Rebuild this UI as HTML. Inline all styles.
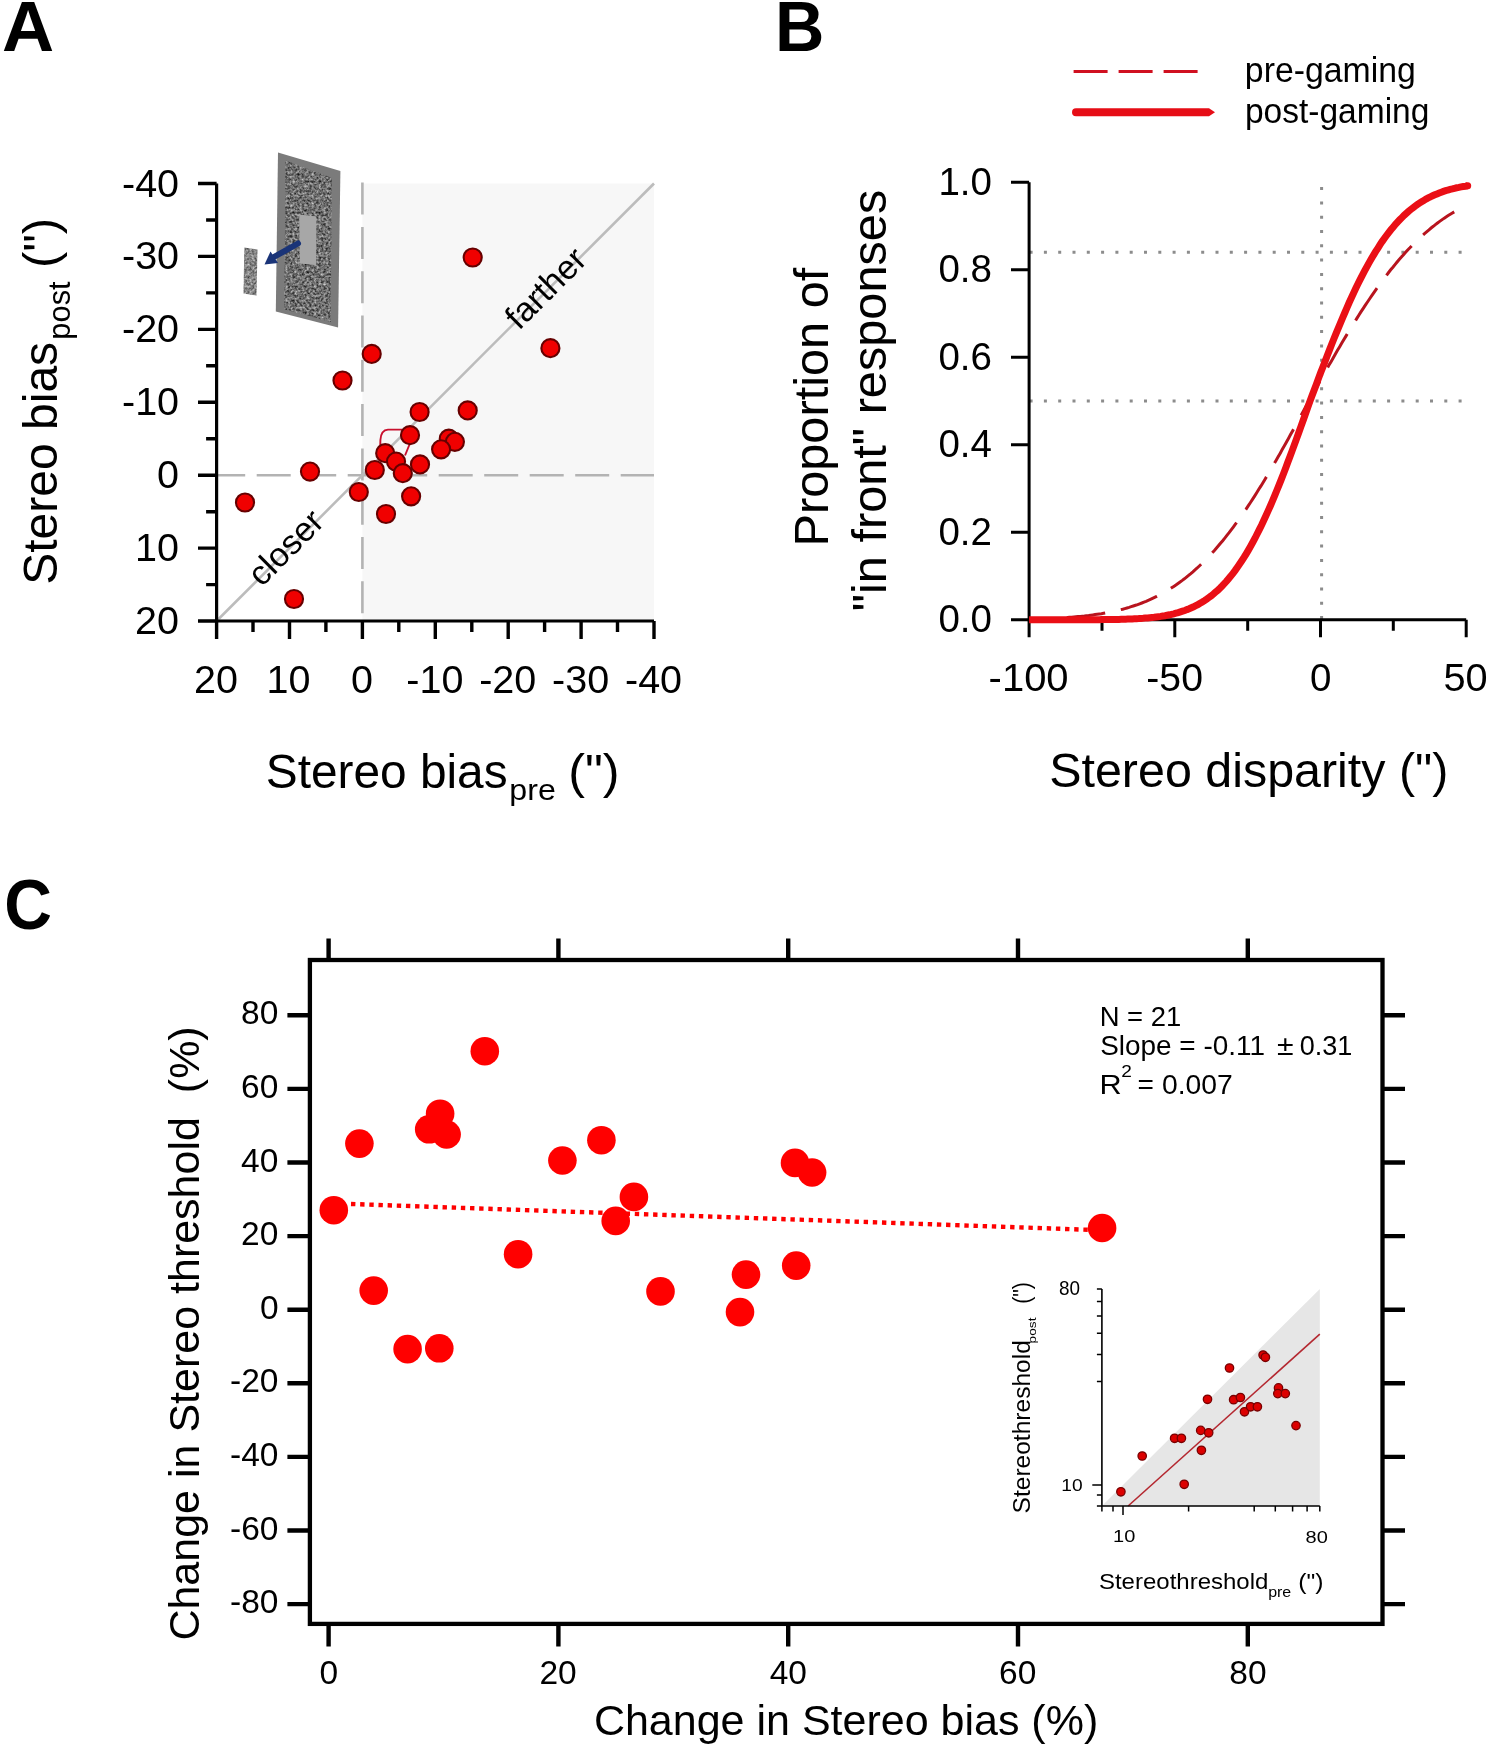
<!DOCTYPE html>
<html><head><meta charset="utf-8"><style>
html,body{margin:0;padding:0;background:#fff;}
svg{display:block;will-change:transform;}
</style></head><body>
<svg width="1499" height="1748" viewBox="0 0 1499 1748">
<rect width="1499" height="1748" fill="#fff"/>
<rect x="362.4" y="183.5" width="291.6" height="437.5" fill="#f7f7f7"/>
<line x1="216.6" y1="475.2" x2="654.0" y2="475.2" stroke="#b3b3b3" stroke-width="2.6" stroke-dasharray="34 11.5" stroke-dashoffset="5.4"/>
<line x1="362.4" y1="182.6" x2="362.4" y2="621.0" stroke="#b3b3b3" stroke-width="2.6" stroke-dasharray="32 12.3"/>
<line x1="216.6" y1="621.0" x2="654.0" y2="183.5" stroke="#bcbcbc" stroke-width="2.6"/>
<path d="M216.6,183.5 V621.0 H654.0" fill="none" stroke="#000" stroke-width="3.2"/>
<path d="M198.0,183.5H216.6M206.1,220.0H216.6M198.0,256.4H216.6M206.1,292.9H216.6M198.0,329.4H216.6M206.1,365.8H216.6M198.0,402.3H216.6M206.1,438.7H216.6M198.0,475.2H216.6M206.1,511.7H216.6M198.0,548.1H216.6M206.1,584.6H216.6M198.0,621.0H216.6M654.0,621.0V639.0M617.5,621.0V632.0M581.1,621.0V639.0M544.6,621.0V632.0M508.2,621.0V639.0M471.8,621.0V632.0M435.3,621.0V639.0M398.8,621.0V632.0M362.4,621.0V639.0M325.9,621.0V632.0M289.5,621.0V639.0M253.0,621.0V632.0M216.6,621.0V639.0" stroke="#000" stroke-width="3.4"/>
<path d="M380.2,447 L380.4,440 Q381,430 388,429.6 L402,429.6" fill="none" stroke="#c8102e" stroke-width="1.9"/>
<path d="M409.5,444.5 L405,455.5" fill="none" stroke="#c8102e" stroke-width="1.9"/>
<circle cx="245" cy="502.5" r="9.05" fill="#f00000" stroke="#660000" stroke-width="2.1"/>
<circle cx="310" cy="471.6" r="9.05" fill="#f00000" stroke="#660000" stroke-width="2.1"/>
<circle cx="294" cy="599" r="9.05" fill="#f00000" stroke="#660000" stroke-width="2.1"/>
<circle cx="342.5" cy="380.5" r="9.05" fill="#f00000" stroke="#660000" stroke-width="2.1"/>
<circle cx="371.7" cy="353.9" r="9.05" fill="#f00000" stroke="#660000" stroke-width="2.1"/>
<circle cx="472.7" cy="257.5" r="9.05" fill="#f00000" stroke="#660000" stroke-width="2.1"/>
<circle cx="550.4" cy="348.2" r="9.05" fill="#f00000" stroke="#660000" stroke-width="2.1"/>
<circle cx="419.6" cy="412" r="9.05" fill="#f00000" stroke="#660000" stroke-width="2.1"/>
<circle cx="467.7" cy="410.4" r="9.05" fill="#f00000" stroke="#660000" stroke-width="2.1"/>
<circle cx="410" cy="435.2" r="9.05" fill="#f00000" stroke="#660000" stroke-width="2.1"/>
<circle cx="448.8" cy="438.7" r="9.05" fill="#f00000" stroke="#660000" stroke-width="2.1"/>
<circle cx="454.9" cy="441.8" r="9.05" fill="#f00000" stroke="#660000" stroke-width="2.1"/>
<circle cx="441.1" cy="449.3" r="9.05" fill="#f00000" stroke="#660000" stroke-width="2.1"/>
<circle cx="385.2" cy="453.2" r="9.05" fill="#f00000" stroke="#660000" stroke-width="2.1"/>
<circle cx="396" cy="461.6" r="9.05" fill="#f00000" stroke="#660000" stroke-width="2.1"/>
<circle cx="420" cy="464.4" r="9.05" fill="#f00000" stroke="#660000" stroke-width="2.1"/>
<circle cx="374.8" cy="470" r="9.05" fill="#f00000" stroke="#660000" stroke-width="2.1"/>
<circle cx="402.8" cy="473.2" r="9.05" fill="#f00000" stroke="#660000" stroke-width="2.1"/>
<circle cx="358.8" cy="492" r="9.05" fill="#f00000" stroke="#660000" stroke-width="2.1"/>
<circle cx="411.1" cy="496.3" r="9.05" fill="#f00000" stroke="#660000" stroke-width="2.1"/>
<circle cx="386" cy="514" r="9.05" fill="#f00000" stroke="#660000" stroke-width="2.1"/>
<g stroke="#8c8c8c" stroke-width="3" stroke-dasharray="3 11.3"><line x1="1029.6" y1="252.3" x2="1466.2" y2="252.3"/><line x1="1029.6" y1="401.0" x2="1466.2" y2="401.0"/><line x1="1321.6" y1="187.1" x2="1321.6" y2="619.8"/></g>
<path d="M1029.1,182.3 V619.8 H1466.2" fill="none" stroke="#000" stroke-width="3"/>
<path d="M1011,619.8H1029.1M1011,532.3H1029.1M1011,444.8H1029.1M1011,357.3H1029.1M1011,269.8H1029.1M1011,182.3H1029.1M1029.1,619.8V637.3M1102.0,619.8V630.8M1174.8,619.8V637.3M1247.7,619.8V630.8M1320.5,619.8V637.3M1393.3,619.8V630.8M1466.2,619.8V637.3" stroke="#000" stroke-width="3"/>
<path d="M1029.1,619.1 L1031.2,619.1 L1033.4,619.0 L1035.5,619.0 L1037.6,618.9 L1039.7,618.8 L1041.9,618.8 L1044.0,618.7 L1046.1,618.6 L1048.2,618.5 L1050.4,618.4 L1052.5,618.4 L1054.6,618.2 L1056.8,618.1 L1058.9,618.0 L1061.0,617.9 L1063.1,617.8 L1065.3,617.6 L1067.4,617.5 L1069.5,617.3 L1071.6,617.2 L1073.8,617.0 L1075.9,616.8 L1078.0,616.6 L1080.2,616.4 L1082.3,616.2 L1084.4,616.0 L1086.5,615.7 L1088.7,615.5 L1090.8,615.2 L1092.9,614.9 L1095.0,614.6 L1097.2,614.3 L1099.3,614.0 L1101.4,613.7 L1103.6,613.3 L1105.7,612.9 L1107.8,612.5 L1109.9,612.1 L1112.1,611.7 L1114.2,611.2 L1116.3,610.7 L1118.4,610.2 L1120.6,609.7 L1122.7,609.2 L1124.8,608.6 L1127.0,608.0 L1129.1,607.4 L1131.2,606.7 L1133.3,606.0 L1135.5,605.3 L1137.6,604.6 L1139.7,603.8 L1141.8,603.0 L1144.0,602.1 L1146.1,601.3 L1148.2,600.4 L1150.4,599.4 L1152.5,598.4 L1154.6,597.4 L1156.7,596.4 L1158.9,595.3 L1161.0,594.1 L1163.1,593.0 L1165.2,591.7 L1167.4,590.5 L1169.5,589.2 L1171.6,587.8 L1173.8,586.4 L1175.9,585.0 L1178.0,583.5 L1180.1,582.0 L1182.3,580.4 L1184.4,578.8 L1186.5,577.1 L1188.6,575.4 L1190.8,573.6 L1192.9,571.8 L1195.0,569.9 L1197.2,568.0 L1199.3,566.0 L1201.4,564.0 L1203.5,561.9 L1205.7,559.8 L1207.8,557.6 L1209.9,555.3 L1212.0,553.0 L1214.2,550.7 L1216.3,548.3 L1218.4,545.8 L1220.5,543.3 L1222.7,540.7 L1224.8,538.1 L1226.9,535.4 L1229.1,532.7 L1231.2,529.9 L1233.3,527.1 L1235.4,524.2 L1237.6,521.3 L1239.7,518.3 L1241.8,515.3 L1243.9,512.2 L1246.1,509.1 L1248.2,505.9 L1250.3,502.7 L1252.5,499.4 L1254.6,496.1 L1256.7,492.7 L1258.8,489.3 L1261.0,485.9 L1263.1,482.4 L1265.2,478.9 L1267.3,475.4 L1269.5,471.8 L1271.6,468.2 L1273.7,464.5 L1275.9,460.8 L1278.0,457.1 L1280.1,453.4 L1282.2,449.6 L1284.4,445.8 L1286.5,442.0 L1288.6,438.2 L1290.7,434.3 L1292.9,430.4 L1295.0,426.5 L1297.1,422.7 L1299.3,418.7 L1301.4,414.8 L1303.5,410.9 L1305.6,407.0 L1307.8,403.0 L1309.9,399.2 L1312.0,395.4 L1314.1,391.5 L1316.3,387.7 L1318.4,383.9 L1320.5,380.1 L1322.7,376.4 L1324.8,372.6 L1326.9,368.8 L1329.0,365.1 L1331.2,361.4 L1333.3,357.7 L1335.4,354.0 L1337.5,350.3 L1339.7,346.7 L1341.8,343.1 L1343.9,339.5 L1346.1,335.9 L1348.2,332.4 L1350.3,328.9 L1352.4,325.4 L1354.6,322.0 L1356.7,318.6 L1358.8,315.2 L1360.9,311.9 L1363.1,308.6 L1365.2,305.4 L1367.3,302.2 L1369.5,299.0 L1371.6,295.9 L1373.7,292.8 L1375.8,289.8 L1378.0,286.8 L1380.1,283.8 L1382.2,280.9 L1384.3,278.1 L1386.5,275.3 L1388.6,272.5 L1390.7,269.8 L1392.9,267.2 L1395.0,264.6 L1397.1,262.0 L1399.2,259.5 L1401.4,257.1 L1403.5,254.7 L1405.6,252.3 L1407.7,250.0 L1409.9,247.8 L1412.0,245.6 L1414.1,243.4 L1416.3,241.3 L1418.4,239.3 L1420.5,237.3 L1422.6,235.3 L1424.8,233.4 L1426.9,231.6 L1429.0,229.8 L1431.1,228.0 L1433.3,226.3 L1435.4,224.6 L1437.5,223.0 L1439.7,221.4 L1441.8,219.9 L1443.9,218.4 L1446.0,217.0 L1448.2,215.6 L1450.3,214.3 L1452.4,213.0 L1454.5,211.7" fill="none" stroke="#b8141e" stroke-width="3" stroke-dasharray="38.7 16" stroke-dashoffset="17"/>
<path d="M1029.1,619.8 L1031.3,619.8 L1033.5,619.8 L1035.7,619.8 L1037.9,619.8 L1040.1,619.8 L1042.3,619.8 L1044.4,619.8 L1046.6,619.8 L1048.8,619.8 L1051.0,619.8 L1053.2,619.8 L1055.4,619.8 L1057.6,619.8 L1059.8,619.8 L1062.0,619.8 L1064.2,619.8 L1066.4,619.8 L1068.6,619.8 L1070.8,619.8 L1073.0,619.8 L1075.1,619.8 L1077.3,619.8 L1079.5,619.8 L1081.7,619.8 L1083.9,619.7 L1086.1,619.7 L1088.3,619.7 L1090.5,619.7 L1092.7,619.7 L1094.9,619.7 L1097.1,619.7 L1099.3,619.7 L1101.5,619.6 L1103.7,619.6 L1105.8,619.6 L1108.0,619.6 L1110.2,619.5 L1112.4,619.5 L1114.6,619.5 L1116.8,619.4 L1119.0,619.4 L1121.2,619.3 L1123.4,619.2 L1125.6,619.2 L1127.8,619.1 L1130.0,619.0 L1132.2,618.9 L1134.4,618.8 L1136.5,618.7 L1138.7,618.6 L1140.9,618.4 L1143.1,618.3 L1145.3,618.1 L1147.5,617.9 L1149.7,617.7 L1151.9,617.5 L1154.1,617.3 L1156.3,617.0 L1158.5,616.7 L1160.7,616.4 L1162.9,616.0 L1165.1,615.7 L1167.2,615.2 L1169.4,614.8 L1171.6,614.3 L1173.8,613.8 L1176.0,613.2 L1178.2,612.6 L1180.4,611.9 L1182.6,611.2 L1184.8,610.5 L1187.0,609.6 L1189.2,608.8 L1191.4,607.8 L1193.6,606.8 L1195.8,605.7 L1197.9,604.6 L1200.1,603.3 L1202.3,602.0 L1204.5,600.6 L1206.7,599.1 L1208.9,597.5 L1211.1,595.9 L1213.3,594.1 L1215.5,592.2 L1217.7,590.3 L1219.9,588.2 L1222.1,586.0 L1224.3,583.7 L1226.5,581.3 L1228.6,578.7 L1230.8,576.1 L1233.0,573.3 L1235.2,570.4 L1237.4,567.3 L1239.6,564.1 L1241.8,560.8 L1244.0,557.4 L1246.2,553.8 L1248.4,550.1 L1250.6,546.3 L1252.8,542.3 L1255.0,538.2 L1257.1,534.0 L1259.3,529.6 L1261.5,525.2 L1263.7,520.5 L1265.9,515.8 L1268.1,510.9 L1270.3,506.0 L1272.5,500.9 L1274.7,495.7 L1276.9,490.3 L1279.1,484.9 L1281.3,479.4 L1283.5,473.8 L1285.7,468.1 L1287.8,462.3 L1290.0,456.5 L1292.2,450.6 L1294.4,444.6 L1296.6,438.6 L1298.8,432.5 L1301.0,426.4 L1303.2,420.3 L1305.4,414.1 L1307.6,407.9 L1309.8,401.7 L1312.0,395.8 L1314.2,390.0 L1316.4,384.2 L1318.5,378.4 L1320.7,372.6 L1322.9,366.9 L1325.1,361.2 L1327.3,355.5 L1329.5,349.9 L1331.7,344.3 L1333.9,338.8 L1336.1,333.4 L1338.3,328.1 L1340.5,322.8 L1342.7,317.6 L1344.9,312.5 L1347.1,307.4 L1349.2,302.5 L1351.4,297.7 L1353.6,293.0 L1355.8,288.3 L1358.0,283.8 L1360.2,279.4 L1362.4,275.1 L1364.6,270.9 L1366.8,266.8 L1369.0,262.9 L1371.2,259.1 L1373.4,255.3 L1375.6,251.7 L1377.8,248.3 L1379.9,244.9 L1382.1,241.6 L1384.3,238.5 L1386.5,235.5 L1388.7,232.6 L1390.9,229.8 L1393.1,227.2 L1395.3,224.6 L1397.5,222.1 L1399.7,219.8 L1401.9,217.6 L1404.1,215.4 L1406.3,213.4 L1408.5,211.4 L1410.6,209.6 L1412.8,207.9 L1415.0,206.2 L1417.2,204.6 L1419.4,203.1 L1421.6,201.7 L1423.8,200.4 L1426.0,199.1 L1428.2,197.9 L1430.4,196.8 L1432.6,195.8 L1434.8,194.8 L1437.0,193.9 L1439.2,193.0 L1441.3,192.2 L1443.5,191.4 L1445.7,190.7 L1447.9,190.0 L1450.1,189.4 L1452.3,188.9 L1454.5,188.3 L1456.7,187.8 L1458.9,187.4 L1461.1,186.9 L1463.3,186.5 L1465.5,186.2 L1467.7,185.8" fill="none" stroke="#ea0f16" stroke-width="7"/>
<circle cx="1467.7" cy="185.8" r="3.5" fill="#ea0f16"/>
<line x1="1073.6" y1="71.4" x2="1200" y2="71.4" stroke="#d01020" stroke-width="3" stroke-dasharray="34 11"/>
<path d="M1076,108.3 H1209 L1215,112.3 L1209,116.3 H1076 A4,4 0 0 1 1076,108.3 Z" fill="#e60d16"/>
<rect x="309.9" y="960" width="1072.6" height="663.9" fill="none" stroke="#000" stroke-width="4.3"/>
<path d="M328.6,1623.9V1646.4M328.6,960.0V938.5M558.4,1623.9V1646.4M558.4,960.0V938.5M788.2,1623.9V1646.4M788.2,960.0V938.5M1018.0,1623.9V1646.4M1018.0,960.0V938.5M1247.8,1623.9V1646.4M1247.8,960.0V938.5M309.9,1604.1H287.4M1382.5,1604.1H1405.0M309.9,1530.5H287.4M1382.5,1530.5H1405.0M309.9,1456.9H287.4M1382.5,1456.9H1405.0M309.9,1383.3H287.4M1382.5,1383.3H1405.0M309.9,1309.7H287.4M1382.5,1309.7H1405.0M309.9,1236.1H287.4M1382.5,1236.1H1405.0M309.9,1162.5H287.4M1382.5,1162.5H1405.0M309.9,1088.9H287.4M1382.5,1088.9H1405.0M309.9,1015.3H287.4M1382.5,1015.3H1405.0" stroke="#000" stroke-width="4.4"/>
<line x1="351" y1="1204.0" x2="1095" y2="1230.0" stroke="#ff0000" stroke-width="4.4" stroke-dasharray="4.4 4.76"/>
<circle cx="484.8" cy="1051.2" r="14.3" fill="#ff0000"/>
<circle cx="440.1" cy="1113.7" r="14.3" fill="#ff0000"/>
<circle cx="429.2" cy="1129.3" r="14.3" fill="#ff0000"/>
<circle cx="446.6" cy="1134.5" r="14.3" fill="#ff0000"/>
<circle cx="359.4" cy="1143.6" r="14.3" fill="#ff0000"/>
<circle cx="601.4" cy="1140.2" r="14.3" fill="#ff0000"/>
<circle cx="562.4" cy="1160.5" r="14.3" fill="#ff0000"/>
<circle cx="333.8" cy="1210.2" r="14.3" fill="#ff0000"/>
<circle cx="633.9" cy="1196.9" r="14.3" fill="#ff0000"/>
<circle cx="615.7" cy="1220.9" r="14.3" fill="#ff0000"/>
<circle cx="518.1" cy="1254.2" r="14.3" fill="#ff0000"/>
<circle cx="373.7" cy="1290.6" r="14.3" fill="#ff0000"/>
<circle cx="660.5" cy="1291.4" r="14.3" fill="#ff0000"/>
<circle cx="407.6" cy="1349.1" r="14.3" fill="#ff0000"/>
<circle cx="439.3" cy="1348.3" r="14.3" fill="#ff0000"/>
<circle cx="795" cy="1162.9" r="14.3" fill="#ff0000"/>
<circle cx="812.1" cy="1172.5" r="14.3" fill="#ff0000"/>
<circle cx="1102.1" cy="1228.0" r="14.3" fill="#ff0000"/>
<circle cx="796.2" cy="1265.6" r="14.3" fill="#ff0000"/>
<circle cx="746" cy="1274.6" r="14.3" fill="#ff0000"/>
<circle cx="740" cy="1312.1" r="14.3" fill="#ff0000"/>
<polygon points="1101.9,1506.0 1319.8,1289.0 1319.8,1506.0" fill="#e6e6e6"/>
<line x1="1128.1" y1="1506.0" x2="1319.8" y2="1334.2" stroke="#b42830" stroke-width="1.6"/>
<path d="M1101.9,1289.0 V1506.0 H1319.8" fill="none" stroke="#000" stroke-width="1.6"/>
<path d="M1096.9,1506.0H1101.9M1096.9,1494.9H1101.9M1092.3,1485.0H1101.9M1096.9,1381.5H1101.9M1096.9,1354.4H1101.9M1096.9,1333.3H1101.9M1096.9,1316.1H1101.9M1096.9,1301.6H1101.9M1096.9,1289.0H1101.9M1101.9,1506.0V1511.5M1113.0,1506.0V1511.5M1123.0,1506.0V1515.0M1188.6,1506.0V1511.5M1254.2,1506.0V1511.5M1275.3,1506.0V1511.5M1292.6,1506.0V1511.5M1307.1,1506.0V1511.5M1319.8,1506.0V1511.5" stroke="#000" stroke-width="1.5"/>
<circle cx="1120.9" cy="1491.8" r="4.2" fill="#dc0000" stroke="#780000" stroke-width="1.3"/>
<circle cx="1142.2" cy="1456" r="4.2" fill="#dc0000" stroke="#780000" stroke-width="1.3"/>
<circle cx="1174.6" cy="1438.3" r="4.2" fill="#dc0000" stroke="#780000" stroke-width="1.3"/>
<circle cx="1181.4" cy="1438.3" r="4.2" fill="#dc0000" stroke="#780000" stroke-width="1.3"/>
<circle cx="1184.2" cy="1484.3" r="4.2" fill="#dc0000" stroke="#780000" stroke-width="1.3"/>
<circle cx="1200.7" cy="1430.4" r="4.2" fill="#dc0000" stroke="#780000" stroke-width="1.3"/>
<circle cx="1208.7" cy="1432.8" r="4.2" fill="#dc0000" stroke="#780000" stroke-width="1.3"/>
<circle cx="1201.4" cy="1450.3" r="4.2" fill="#dc0000" stroke="#780000" stroke-width="1.3"/>
<circle cx="1207.5" cy="1399.3" r="4.2" fill="#dc0000" stroke="#780000" stroke-width="1.3"/>
<circle cx="1229.5" cy="1368" r="4.2" fill="#dc0000" stroke="#780000" stroke-width="1.3"/>
<circle cx="1233.6" cy="1399.7" r="4.2" fill="#dc0000" stroke="#780000" stroke-width="1.3"/>
<circle cx="1240.4" cy="1397.5" r="4.2" fill="#dc0000" stroke="#780000" stroke-width="1.3"/>
<circle cx="1244.5" cy="1411.8" r="4.2" fill="#dc0000" stroke="#780000" stroke-width="1.3"/>
<circle cx="1250.6" cy="1406.8" r="4.2" fill="#dc0000" stroke="#780000" stroke-width="1.3"/>
<circle cx="1257.4" cy="1406.8" r="4.2" fill="#dc0000" stroke="#780000" stroke-width="1.3"/>
<circle cx="1263.1" cy="1355" r="4.2" fill="#dc0000" stroke="#780000" stroke-width="1.3"/>
<circle cx="1265.4" cy="1357.3" r="4.2" fill="#dc0000" stroke="#780000" stroke-width="1.3"/>
<circle cx="1278.5" cy="1387.9" r="4.2" fill="#dc0000" stroke="#780000" stroke-width="1.3"/>
<circle cx="1277.8" cy="1393.6" r="4.2" fill="#dc0000" stroke="#780000" stroke-width="1.3"/>
<circle cx="1285.3" cy="1393.6" r="4.2" fill="#dc0000" stroke="#780000" stroke-width="1.3"/>
<circle cx="1296" cy="1425.6" r="4.2" fill="#dc0000" stroke="#780000" stroke-width="1.3"/>
<defs>
<filter id="noise" x="0" y="0" width="100%" height="100%" color-interpolation-filters="sRGB">
<feTurbulence type="fractalNoise" baseFrequency="0.42" numOctaves="2" seed="7" result="t"/>
<feColorMatrix type="matrix" values="0.95 0 0 0 -0.04  0.95 0 0 0 -0.04  0.95 0 0 0 -0.04  0 0 0 0 1" in="t" result="c"/>
<feGaussianBlur in="c" stdDeviation="0.45"/>
</filter>
<filter id="sblur"><feGaussianBlur stdDeviation="0.6"/></filter>
<clipPath id="innerClip"><polygon points="285.5,160.6 331.8,177.8 330.7,321.9 284.3,309.3"/></clipPath>
<clipPath id="smallClip"><polygon points="244.3,247.5 257.5,249.5 256.5,295.6 243.5,293.5"/></clipPath>
</defs>
<polygon points="278,152.6 340.4,170.9 338.1,327.6 275.8,311.6" fill="#7b7b7b"/>
<g clip-path="url(#innerClip)"><rect x="280" y="155" width="60" height="175" filter="url(#noise)"/></g>
<polygon points="299.2,214.4 316.4,216.5 316,265 299.8,263.6" fill="#a7a7a7"/>
<g clip-path="url(#smallClip)" opacity="0.85" filter="url(#sblur)"><rect x="240" y="245" width="20" height="55" filter="url(#noise)"/></g>
<path d="M298,243.5 L272,258" stroke="#1a3478" stroke-width="6" stroke-linecap="round"/>
<polygon points="264.5,264.5 270.5,251.5 278,263" fill="#1a3478"/>
<text transform="translate(1.94,51.00) scale(1.0319,1.0)" font-family="Liberation Sans, sans-serif" font-size="70" font-weight="bold" xml:space="preserve">A</text>
<text transform="translate(775.12,51.00) scale(0.9762,1.0)" font-family="Liberation Sans, sans-serif" font-size="70" font-weight="bold" xml:space="preserve">B</text>
<text transform="translate(4.17,928.70) scale(0.9444,1.0)" font-family="Liberation Sans, sans-serif" font-size="70" font-weight="bold" xml:space="preserve">C</text>
<text transform="translate(122.00,196.52)" font-family="Liberation Sans, sans-serif" font-size="39.5" xml:space="preserve">-40</text>
<text transform="translate(122.00,269.44)" font-family="Liberation Sans, sans-serif" font-size="39.5" xml:space="preserve">-30</text>
<text transform="translate(122.00,342.36)" font-family="Liberation Sans, sans-serif" font-size="39.5" xml:space="preserve">-20</text>
<text transform="translate(122.00,415.28)" font-family="Liberation Sans, sans-serif" font-size="39.5" xml:space="preserve">-10</text>
<text transform="translate(157.00,488.20)" font-family="Liberation Sans, sans-serif" font-size="39.5" xml:space="preserve">0</text>
<text transform="translate(135.00,561.12)" font-family="Liberation Sans, sans-serif" font-size="39.5" xml:space="preserve">10</text>
<text transform="translate(135.00,634.04)" font-family="Liberation Sans, sans-serif" font-size="39.5" xml:space="preserve">20</text>
<text transform="translate(194.10,692.50)" font-family="Liberation Sans, sans-serif" font-size="39.5" xml:space="preserve">20</text>
<text transform="translate(266.50,692.50)" font-family="Liberation Sans, sans-serif" font-size="39.5" xml:space="preserve">10</text>
<text transform="translate(350.90,692.50)" font-family="Liberation Sans, sans-serif" font-size="39.5" xml:space="preserve">0</text>
<text transform="translate(406.30,692.50)" font-family="Liberation Sans, sans-serif" font-size="39.5" xml:space="preserve">-10</text>
<text transform="translate(479.20,692.50)" font-family="Liberation Sans, sans-serif" font-size="39.5" xml:space="preserve">-20</text>
<text transform="translate(552.10,692.50)" font-family="Liberation Sans, sans-serif" font-size="39.5" xml:space="preserve">-30</text>
<text transform="translate(625.00,692.50)" font-family="Liberation Sans, sans-serif" font-size="39.5" xml:space="preserve">-40</text>
<text transform="translate(265.74,787.80) scale(0.9819,1.0)" font-family="Liberation Sans, sans-serif" font-size="48.7" xml:space="preserve">Stereo bias</text>
<text transform="translate(509.36,800.20) scale(1.0725,1.0)" font-family="Liberation Sans, sans-serif" font-size="30" xml:space="preserve">pre</text>
<text transform="translate(568.20,787.80) scale(1.0341,1.0)" font-family="Liberation Sans, sans-serif" font-size="48.7" xml:space="preserve">(")</text>
<text transform="translate(57.30,584.77) rotate(-90) scale(0.9860,1.0)" font-family="Liberation Sans, sans-serif" font-size="48.7" xml:space="preserve">Stereo bias</text>
<text transform="translate(70.00,339.72) rotate(-90) scale(1.0125,1.0)" font-family="Liberation Sans, sans-serif" font-size="30.5" xml:space="preserve">post</text>
<text transform="translate(57.30,267.93) rotate(-90) scale(1.0091,1.0)" font-family="Liberation Sans, sans-serif" font-size="48.7" xml:space="preserve">(")</text>
<text transform="translate(261.7,587.7) rotate(-45)" font-family="Liberation Sans, sans-serif" font-size="34" xml:space="preserve">closer</text>
<text transform="translate(519.1,331) rotate(-45)" font-family="Liberation Sans, sans-serif" font-size="34" xml:space="preserve">farther</text>
<text transform="translate(938.40,632.40)" font-family="Liberation Sans, sans-serif" font-size="38.5" xml:space="preserve">0.0</text>
<text transform="translate(938.40,544.90)" font-family="Liberation Sans, sans-serif" font-size="38.5" xml:space="preserve">0.2</text>
<text transform="translate(938.40,457.40)" font-family="Liberation Sans, sans-serif" font-size="38.5" xml:space="preserve">0.4</text>
<text transform="translate(938.40,369.90)" font-family="Liberation Sans, sans-serif" font-size="38.5" xml:space="preserve">0.6</text>
<text transform="translate(938.40,282.40)" font-family="Liberation Sans, sans-serif" font-size="38.5" xml:space="preserve">0.8</text>
<text transform="translate(938.40,194.90)" font-family="Liberation Sans, sans-serif" font-size="38.5" xml:space="preserve">1.0</text>
<text transform="translate(988.62,691.20) scale(1.0378,1.0)" font-family="Liberation Sans, sans-serif" font-size="38.5" xml:space="preserve">-100</text>
<text transform="translate(1146.32,691.20) scale(1.0173,1.0)" font-family="Liberation Sans, sans-serif" font-size="38.5" xml:space="preserve">-50</text>
<text transform="translate(1310.00,691.20)" font-family="Liberation Sans, sans-serif" font-size="38.5" xml:space="preserve">0</text>
<text transform="translate(1443.48,691.20) scale(1.0325,1.0)" font-family="Liberation Sans, sans-serif" font-size="38.5" xml:space="preserve">50</text>
<text transform="translate(1244.87,82.00) scale(0.9665,1.0)" font-family="Liberation Sans, sans-serif" font-size="35" xml:space="preserve">pre-gaming</text>
<text transform="translate(1244.88,122.70) scale(0.9587,1.0)" font-family="Liberation Sans, sans-serif" font-size="35" xml:space="preserve">post-gaming</text>
<text transform="translate(1049.21,787.20) scale(0.9942,1.0)" font-family="Liberation Sans, sans-serif" font-size="48.7" xml:space="preserve">Stereo disparity (")</text>
<text transform="translate(828.40,546.50) rotate(-90)" font-family="Liberation Sans, sans-serif" font-size="48.7" xml:space="preserve">Proportion of</text>
<text transform="translate(885.50,611.30) rotate(-90)" font-family="Liberation Sans, sans-serif" font-size="48.7" xml:space="preserve">"in front" responses</text>
<text transform="translate(230.00,1613.20)" font-family="Liberation Sans, sans-serif" font-size="33.5" xml:space="preserve">-80</text>
<text transform="translate(230.00,1539.60)" font-family="Liberation Sans, sans-serif" font-size="33.5" xml:space="preserve">-60</text>
<text transform="translate(230.00,1466.00)" font-family="Liberation Sans, sans-serif" font-size="33.5" xml:space="preserve">-40</text>
<text transform="translate(230.00,1392.40)" font-family="Liberation Sans, sans-serif" font-size="33.5" xml:space="preserve">-20</text>
<text transform="translate(260.00,1318.80)" font-family="Liberation Sans, sans-serif" font-size="33.5" xml:space="preserve">0</text>
<text transform="translate(241.00,1245.20)" font-family="Liberation Sans, sans-serif" font-size="33.5" xml:space="preserve">20</text>
<text transform="translate(241.00,1171.60)" font-family="Liberation Sans, sans-serif" font-size="33.5" xml:space="preserve">40</text>
<text transform="translate(241.00,1098.00)" font-family="Liberation Sans, sans-serif" font-size="33.5" xml:space="preserve">60</text>
<text transform="translate(241.00,1024.40)" font-family="Liberation Sans, sans-serif" font-size="33.5" xml:space="preserve">80</text>
<text transform="translate(319.60,1683.60)" font-family="Liberation Sans, sans-serif" font-size="33.5" xml:space="preserve">0</text>
<text transform="translate(539.40,1683.60)" font-family="Liberation Sans, sans-serif" font-size="33.5" xml:space="preserve">20</text>
<text transform="translate(769.70,1683.60)" font-family="Liberation Sans, sans-serif" font-size="33.5" xml:space="preserve">40</text>
<text transform="translate(999.00,1683.60)" font-family="Liberation Sans, sans-serif" font-size="33.5" xml:space="preserve">60</text>
<text transform="translate(1229.30,1683.60)" font-family="Liberation Sans, sans-serif" font-size="33.5" xml:space="preserve">80</text>
<text transform="translate(593.90,1734.80)" font-family="Liberation Sans, sans-serif" font-size="43" xml:space="preserve">Change in Stereo bias (%)</text>
<text transform="translate(199.40,1640.60) rotate(-90)" font-family="Liberation Sans, sans-serif" font-size="43" xml:space="preserve">Change in Stereo threshold  (%)</text>
<text transform="translate(1099.69,1026.00) scale(1.0051,1.0)" font-family="Liberation Sans, sans-serif" font-size="27.3" xml:space="preserve">N = 21</text>
<text transform="translate(1100.18,1054.60) scale(1.0226,1.0)" font-family="Liberation Sans, sans-serif" font-size="27.3" xml:space="preserve">Slope = -0.11</text>
<text transform="translate(1277.09,1054.60) scale(1.1077,1.0)" font-family="Liberation Sans, sans-serif" font-size="27.3" xml:space="preserve">±</text>
<text transform="translate(1299.71,1054.60) scale(0.9902,1.0)" font-family="Liberation Sans, sans-serif" font-size="27.3" xml:space="preserve">0.31</text>
<text transform="translate(1099.45,1094.10) scale(1.1250,1.0)" font-family="Liberation Sans, sans-serif" font-size="27.3" xml:space="preserve">R</text>
<text transform="translate(1121.24,1077.40) scale(1.1571,1.0)" font-family="Liberation Sans, sans-serif" font-size="16.5" xml:space="preserve">2</text>
<text transform="translate(1137.57,1094.10) scale(1.0286,1.0)" font-family="Liberation Sans, sans-serif" font-size="27.3" xml:space="preserve">=</text>
<text transform="translate(1161.96,1094.10) scale(1.0364,1.0)" font-family="Liberation Sans, sans-serif" font-size="27.3" xml:space="preserve">0.007</text>
<text transform="translate(1059.03,1295.00) scale(0.9700,1.0)" font-family="Liberation Sans, sans-serif" font-size="19.5" xml:space="preserve">80</text>
<text transform="translate(1061.27,1491.00) scale(1.1294,1.0)" font-family="Liberation Sans, sans-serif" font-size="17" xml:space="preserve">10</text>
<text transform="translate(1113.02,1541.60) scale(1.1765,1.0)" font-family="Liberation Sans, sans-serif" font-size="17" xml:space="preserve">10</text>
<text transform="translate(1305.62,1543.30) scale(1.1765,1.0)" font-family="Liberation Sans, sans-serif" font-size="17" xml:space="preserve">80</text>
<text transform="translate(1098.91,1588.70) scale(1.0922,1.0)" font-family="Liberation Sans, sans-serif" font-size="22" xml:space="preserve">Stereothreshold</text>
<text transform="translate(1268.16,1596.60) scale(1.1421,1.0)" font-family="Liberation Sans, sans-serif" font-size="14" xml:space="preserve">pre</text>
<text transform="translate(1298.17,1588.70) scale(1.1250,1.0)" font-family="Liberation Sans, sans-serif" font-size="22" xml:space="preserve">(")</text>
<text transform="translate(1029.50,1513.42) rotate(-90) scale(1.1163,1.12)" font-family="Liberation Sans, sans-serif" font-size="22" xml:space="preserve">Stereothreshold</text>
<text transform="translate(1036.30,1343.39) rotate(-90) scale(1.1905,1.0)" font-family="Liberation Sans, sans-serif" font-size="11.5" xml:space="preserve">post</text>
<text transform="translate(1029.50,1303.87) rotate(-90) scale(0.9650,1.1)" font-family="Liberation Sans, sans-serif" font-size="22" xml:space="preserve">(")</text>
</svg>
</body></html>
